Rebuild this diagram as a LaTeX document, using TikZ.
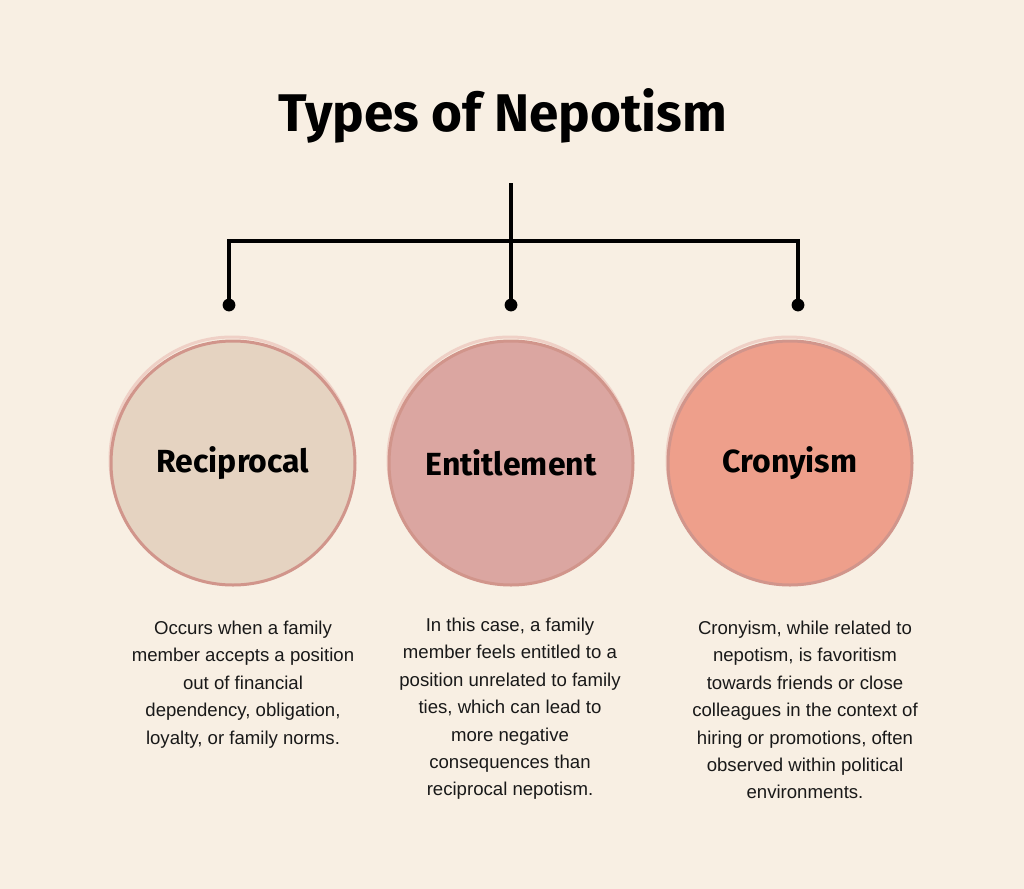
\documentclass[tikz,border=0pt]{standalone}
\usepackage{fontspec}
\setmainfont{Liberation Sans}
\newfontfamily\headfont{Fira Sans}
\definecolor{paper}{HTML}{F8EFE3}
\definecolor{ring}{HTML}{D1958B}
\definecolor{ringlight}{HTML}{EFD0C6}
\definecolor{recipfill}{HTML}{E5D3C1}
\definecolor{entitfill}{HTML}{DBA6A1}
\definecolor{cronyfill}{HTML}{EE9F8B}
\tikzset{
  typecircle/.style={circle, draw=ring, line width=1.5pt, minimum size=122pt,
    inner sep=0pt, font=\headfont\fontsize{16}{18}\selectfont\bfseries},
  halo/.style={circle, draw=ringlight, line width=1.5pt, minimum size=122pt, inner sep=0pt},
  desc/.style={align=center, font=\fontsize{9.3}{13.7}\selectfont, text=black!90},
  branch/.style={line width=2pt, black}
}
\begin{document}
\begin{tikzpicture}[x=0.5pt, y=-0.5pt]
  % Background
  \fill[paper] (0,0) rectangle (1024,889);
  \useasboundingbox (0,0) rectangle (1024,889);
  % Title
  \node[font=\headfont\fontsize{26.5}{30}\selectfont\bfseries] (title) at (503,116) {Types of Nepotism};
  % Tree
  \coordinate (top) at (511,183);
  \coordinate (hub) at (511,241);
  \coordinate (dotA) at (229,305);
  \coordinate (dotB) at (511,305);
  \coordinate (dotC) at (798,305);
  \draw[branch] (top) -- (dotB);
  \draw[branch] (dotA) |- (hub) -| (dotC);
  \foreach \d in {dotA,dotB,dotC} { \fill (\d) circle (3.2pt); }
  % Circles
  \node[halo] at (232,459) {};
  \node[halo] at (510,459) {};
  \node[halo] at (789,459) {};
  \node[typecircle, fill=recipfill] (recip) at (233,463) {Reciprocal};
  \node[typecircle, fill=entitfill] (entit) at (511,463) {Entitlement};
  \node[typecircle, fill=cronyfill] (crony) at (790,463) {Cronyism};
  % Descriptions
  \node[desc, anchor=north] (recipText) at (243,614) {Occurs when a family\\member accepts a position\\out of financial\\dependency, obligation,\\loyalty, or family norms.};
  \node[desc, anchor=north] (entitText) at (510,611) {In this case, a family\\member feels entitled to a\\position unrelated to family\\ties, which can lead to\\more negative\\consequences than\\reciprocal nepotism.};
  \node[desc, anchor=north] (cronyText) at (805,614) {Cronyism, while related to\\nepotism, is favoritism\\towards friends or close\\colleagues in the context of\\hiring or promotions, often\\observed within political\\environments.};
\end{tikzpicture}
\end{document}
